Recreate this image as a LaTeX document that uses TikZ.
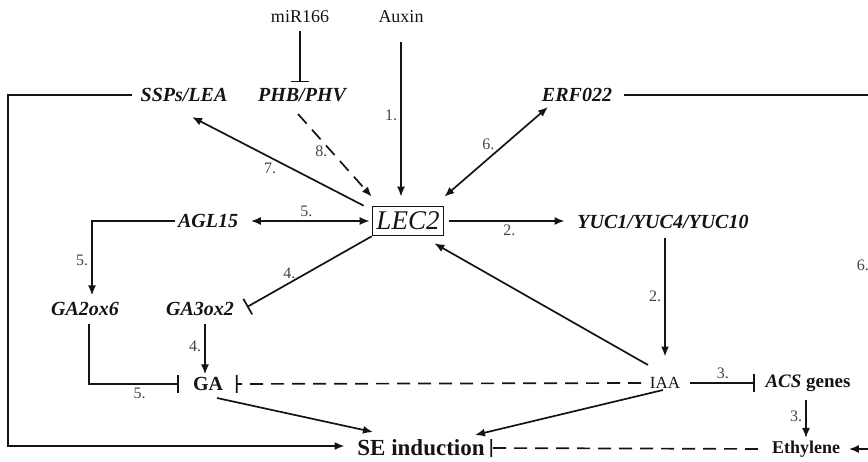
\documentclass[tikz,border=0pt]{standalone}
\usepackage{fontspec}
\setmainfont{Liberation Serif}
\usetikzlibrary{arrows.meta}
\definecolor{INK}{HTML}{141414}
\definecolor{NUM}{HTML}{444444}

\begin{document}
\begin{tikzpicture}[
  x=1pt, y=-1pt,
  line width=1.7pt, color=INK,
  gene/.style={font=\fontsize{20}{24}\selectfont\bfseries\itshape, text=INK, inner sep=2pt},
  plain/.style={font=\fontsize{18}{22}\selectfont, text=INK, inner sep=2pt},
  heavy/.style={font=\fontsize{#1}{#1}\selectfont\bfseries, text=INK, inner sep=2pt},
  hub/.style={draw=INK, line width=1.6pt, font=\fontsize{27}{30}\selectfont\itshape, inner sep=2pt, minimum height=29pt, minimum width=71pt},
  num/.style={font=\fontsize{16}{18}\selectfont, text=NUM, inner sep=3pt},
  arr/.style={-{Latex[length=10pt,width=8pt]}},
  dbl/.style={{Latex[length=10pt,width=8pt]}-{Latex[length=10pt,width=8pt]}},
  inh/.style={-{Bar[width=18pt]}},
  dsh/.style={dash pattern=on 13pt off 8pt},
]
\useasboundingbox (0,0) rectangle (868,461);

% ===== nodes =====
\node[plain] (mir) at (300,17) {miR166};
\node[plain] (aux) at (401,17) {Auxin};
\node[gene] (ssp) at (184,95) {SSPs/LEA};
\node[gene] (phb) at (302,95) {PHB/PHV};
\node[gene] (erf) at (577,95) {ERF022};
\node[hub] (lec) at (408,221) {LEC2};
\node[gene] (agl) at (208,221) {AGL15};
\node[gene] (yuc) at (663,222) {YUC1/YUC4/YUC10};
\node[gene] (ga2) at (85,309) {GA2ox6};
\node[gene] (ga3) at (200,309) {GA3ox2};
\node[heavy=20] (ga) at (208,384) {GA};
\node[font=\fontsize{17}{20}\selectfont, text=INK, inner sep=2pt] (iaa) at (665,383) {IAA};
\node[heavy=19] (acs) at (808,383) {\textit{ACS} genes};
\node[heavy=18] (eth) at (806,449) {Ethylene};
\node[heavy=23] (se) at (421,448) {SE induction};
\node[num, anchor=west] (n6) at (853,265) {6.};

% free ends at the picture's edges
\coordinate (rt) at (868,94);
\coordinate (rb) at (868,449);
\coordinate (lb) at (8,446);

% ===== top =====
\draw[inh, shorten <=5pt, shorten >=3pt] (mir.south) -- (mir.south |- phb.north);
\draw[arr, shorten <=16pt, shorten >=9pt] (aux.south) -- (aux.south |- lec.north)
  node[num, left, pos=0.5] {1.};
\draw[arr, dsh] ([shift={(-4,19)}]phb.center) -- ([shift={(0,-9)}]lec.north west)
  node[num, left, pos=0.45] {8.};
\draw[arr] ([xshift=-8pt]lec.north west) -- ([shift={(8,22)}]ssp.center)
  node[num, below left, inner sep=1pt, pos=0.5] {7.};
\draw[dbl] ([shift={(-29,12)}]erf.center) -- ([shift={(0,-9)}]lec.north east)
  node[num, above left, inner sep=1pt, pos=0.5] {6.};
\draw[shorten <=9pt] (erf.east) -- (erf.east -| rt);
\draw[arr, shorten <=6pt, shorten >=10pt] (ssp.west) -- (ssp.west -| lb) -- (lb) -- (lb -| se.west);

% ===== middle =====
\draw[dbl, shorten <=10pt, shorten >=2pt] (agl.east) -- (lec.west)
  node[num, above, pos=0.5] {5.};
\draw[arr, shorten <=5pt, shorten >=10pt] (lec.east) -- (lec.east -| yuc.west)
  node[num, below, pos=0.5] {2.};
\draw[arr, shorten <=6pt, shorten >=18pt] ([xshift=2pt]yuc.south) -- ([xshift=2pt]yuc.south |- iaa.north)
  node[num, left, pos=0.45] {2.};
\draw[arr] ([shift={(-17,-18)}]iaa.center) -- ([shift={(-10,7)}]lec.south east);
\draw[inh] (lec.south west) -- ([shift={(47,-2)}]ga3.center)
  node[num, above, pos=0.66] {4.};

% ===== lower left =====
\draw[arr, shorten >=4pt] (agl.west) -| ([xshift=7pt]ga2.north)
  node[num, left, pos=0.75] {5.};
\draw[inh, shorten <=5pt, shorten >=11pt] ([xshift=4pt]ga2.south) |- (ga.west)
  node[num, below, pos=0.75] {5.};
\draw[arr, shorten <=5pt] ([xshift=5pt]ga3.south) -- ([xshift=5pt]ga3.south |- ga.north)
  node[num, left, pos=0.5] {4.};

% ===== bottom =====
\draw[inh, dsh, shorten <=6pt, shorten >=10pt] (iaa.west) -- (ga.east);
\draw[arr] ([shift={(9,14)}]ga.center) -- ([shift={(-48,-16)}]se.center);
\draw[arr] ([shift={(-2,7)}]iaa.center) -- ([shift={(54,-13)}]se.center);
\draw[inh, shorten <=7pt, shorten >=8pt] (iaa.east) -- (acs.west)
  node[num, above, pos=0.5] {3.};
\draw[arr, shorten <=6pt] ([xshift=-2pt]acs.south) -- ([xshift=-2pt]acs.south |- eth.north)
  node[num, left, pos=0.5] {3.};
\draw[inh, dsh, shorten <=11pt, shorten >=3pt] (eth.west) -- (se.east);
\draw[arr, shorten >=6pt] (rb) -- (eth.east);

\end{tikzpicture}
\end{document}
